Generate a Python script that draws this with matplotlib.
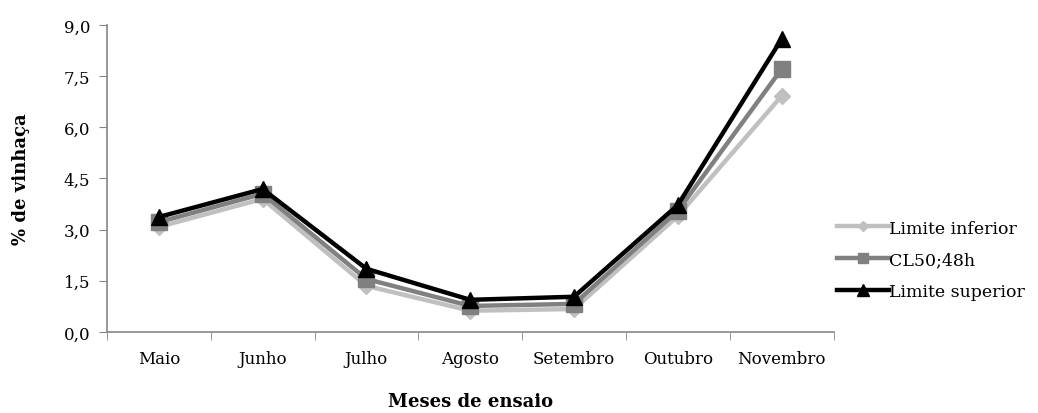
import matplotlib
matplotlib.use("Agg")
import matplotlib.pyplot as plt
import numpy as np

# dados
meses = ["Maio", "Junho", "Julho", "Agosto", "Setembro", "Outubro", "Novembro"]
limite_inferior = [3.08, 3.90, 1.35, 0.62, 0.67, 3.40, 6.92]
cl50 = [3.22, 4.05, 1.55, 0.76, 0.82, 3.55, 7.71]
limite_superior = [3.37, 4.19, 1.85, 0.94, 1.03, 3.72, 8.59]

plt.rcParams['font.family'] = ['DejaVu Serif']

fig = plt.figure(figsize=(10.38, 4.14), dpi=100)
ax = fig.add_axes([0.103, 0.196, 0.70, 0.741])

x = np.arange(len(meses))
ax.plot(x, limite_inferior, color="#c0c0c0", lw=3.2, marker="D", ms=8, label="Limite inferior")
ax.plot(x, cl50, color="#808080", lw=3.2, marker="s", ms=11, label="CL50;48h")
ax.plot(x, limite_superior, color="black", lw=3.2, marker="^", ms=12, label="Limite superior")

ax.set_xlim(-0.5, len(meses) - 0.5)
ax.set_ylim(0, 9)
ticks_y = np.arange(0, 9.1, 1.5)
ax.set_yticks(ticks_y)
ax.set_yticklabels([f"{v:.1f}".replace(".", ",") for v in ticks_y])
ax.set_xticks(x)
ax.set_xticklabels(meses)
ax.set_xticks(np.arange(-0.5, len(meses)), minor=True)
ax.tick_params(axis="x", which="major", length=0, labelsize=12, pad=13)
ax.tick_params(axis="x", which="minor", length=6, color="#868686")
ax.tick_params(axis="y", length=6, color="#868686", labelsize=12, pad=6)

for s in ["top", "right"]:
    ax.spines[s].set_visible(False)
for s in ["left", "bottom"]:
    ax.spines[s].set_color("#868686")
    ax.spines[s].set_linewidth(1.2)

ax.set_ylabel("% de vinhaça", fontsize=13, fontweight="bold", labelpad=24)
fig.text(0.4535, 0.03, "Meses de ensaio", ha="center", va="center", fontsize=13, fontweight="bold")

ax.legend(loc="center left", bbox_to_anchor=(0.995, 0.235), frameon=False, fontsize=12.5,
          handlelength=3.0, handletextpad=0.0, labelspacing=0.85, borderaxespad=0, markerscale=0.7)

plt.savefig("out.png", dpi=100)
